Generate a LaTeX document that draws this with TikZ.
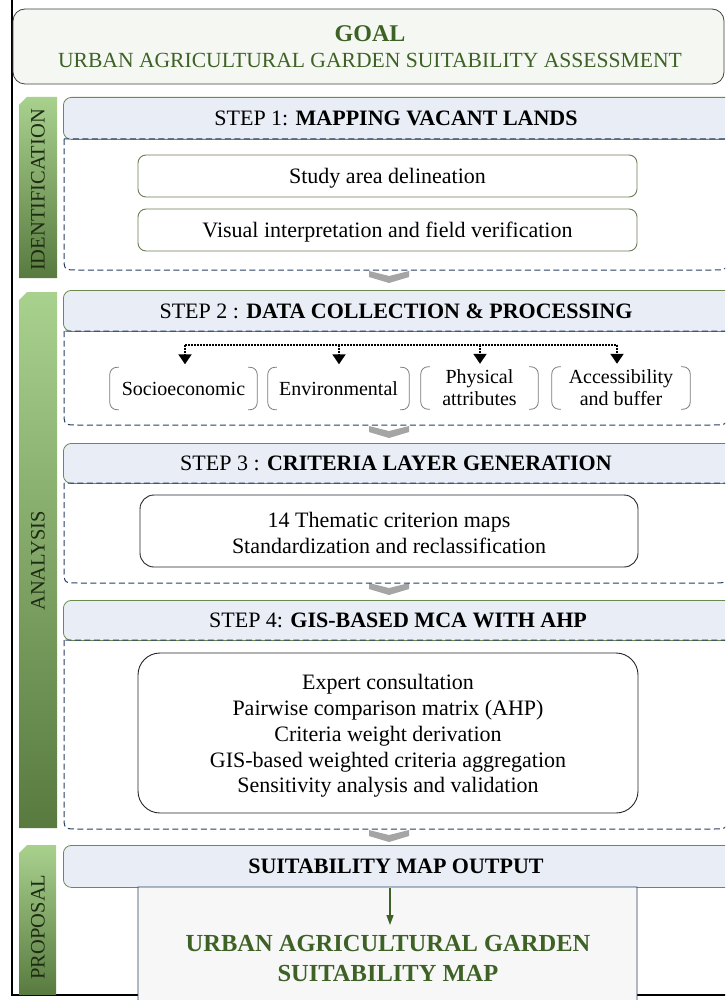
\documentclass[tikz,border=0pt]{standalone}
\usepackage{fontspec}
\setmainfont{Liberation Serif}
\usetikzlibrary{arrows.meta}
\definecolor{dkgreen}{HTML}{3E6125}
\definecolor{goalfill}{HTML}{F5F8F2}
\definecolor{hdrfill}{HTML}{E9EDF6}
\definecolor{hdrline}{HTML}{6A8A4E}
\definecolor{navy}{HTML}{2A3F63}
\definecolor{olive}{HTML}{6B7D55}
\definecolor{chev}{HTML}{A5A5A5}
\definecolor{barlight}{HTML}{A9D18E}
\definecolor{bardark}{HTML}{587A3F}
\definecolor{finfill}{HTML}{F7F7F7}
\definecolor{labtxt}{HTML}{1D2B12}
\definecolor{catline}{HTML}{7A7A7A}
\tikzset{
  fs/.style={font=\fontsize{22}{26}\selectfont},
  frame/.style={draw=black, line width=1.1pt},
  goalbox/.style={draw=black!75, fill=goalfill, rounded corners=12pt, line width=0.8pt},
  bar/.style={top color=barlight, bottom color=bardark},
  sidelab/.style={rotate=90, inner sep=0pt, text=labtxt, font=\fontsize{20.5}{24}\selectfont},
  hdr/.style={draw=hdrline, fill=hdrfill, rounded corners=8pt, line width=0.8pt, anchor=north west, minimum width=680pt},
  hdrtxt/.style={inner sep=0pt, font=\fontsize{22}{26}\selectfont},
  cont/.style={draw=navy, line width=1pt, dash pattern=on 6pt off 3.5pt},
  boxone/.style={draw=olive, fill=white, rounded corners=8pt, line width=0.9pt, fs, minimum width=499pt, minimum height=42pt, text height=16pt, text depth=1.5pt},
  boxbig/.style={draw=black!85, fill=white, line width=0.9pt},
  bigtxt/.style={inner sep=0pt, align=center},
  cat/.style={inner sep=0pt, font=\fontsize{20}{22}\selectfont, align=center, minimum height=42pt},
  catside/.style={draw=catline, line width=0.8pt, rounded corners=7pt},
  dotline/.style={draw=black, line width=1.9pt, dash pattern=on 1.6pt off 1.4pt},
  dotarr/.style={dotline, -{Triangle[length=10pt,width=13pt]}, shorten >=3pt},
  chevron/.style={fill=chev},
  garrow/.style={draw=dkgreen, line width=1.2pt, -{Triangle[length=10pt,width=7pt]}},
}
\begin{document}
\begin{tikzpicture}[x=1pt,y=-1pt]
\useasboundingbox (0,0) rectangle (725,1000);
\clip (0,0) rectangle (725,1000);
\fill[white] (0,0) rectangle (725,1000);

% outer frame
\draw[frame] (12,-2) -- (12,995) -- (140,995);
\draw[frame] (636,995) -- (730,995);

% goal
\node[goalbox, minimum width=711pt, minimum height=75pt] (goal) at (368.5,46.5) {};
\node[inner sep=0pt, text=dkgreen, font=\fontsize{24}{28}\selectfont\bfseries] (goalt) at (370,33.5) {GOAL};
\node[inner sep=0pt, text=dkgreen, font=\fontsize{21.6}{26}\selectfont] (goals) at (370,60) {URBAN AGRICULTURAL GARDEN SUITABILITY ASSESSMENT};

% side bars
\shade[bar] (19,105) -- (27,97) -- (57,97) -- (57,278) -- (19,278) -- cycle;
\shade[bar] (19,300) -- (27,292) -- (57,292) -- (57,828) -- (19,828) -- cycle;
\shade[bar] (19,853) -- (27,845) -- (56,845) -- (56,995) -- (19,995) -- cycle;
\node[sidelab] (lid) at (38,190) {IDENTIFICATION};
\node[sidelab] (lan) at (38,561) {ANALYSIS};
\node[sidelab] (lpr) at (38,927) {PROPOSAL};

% chevrons
\foreach \y in {271,426,583,830}{
  \fill[chevron] (369,\y) -- (389,\y+5) -- (409,\y) -- (409,\y+6) -- (389,\y+12) -- (369,\y+6) -- cycle;
}

% step 1
\node[hdr, minimum height=42pt] (h1) at (63,97) {};
\node[hdrtxt] (h1t) at (396,118.5) {STEP 1: \textbf{MAPPING VACANT LANDS}};
\draw[cont] (64,139) -- (64,256) .. controls (64,270) .. (78,270) -- (713,270) .. controls (727,270) .. (727,256) -- (727,139) -- cycle;
\node[boxone] (s1a) at (387.5,176) {Study area delineation};
\node[boxone] (s1b) at (387.5,230) {Visual interpretation and field verification};

% step 2
\node[hdr, minimum height=41pt] (h2) at (63,290) {};
\node[hdrtxt] (h2t) at (396,311.5) {STEP 2 : \textbf{DATA COLLECTION \& PROCESSING}};
\draw[cont] (64,331) -- (64,411) .. controls (64,425) .. (78,425) -- (713,425) .. controls (727,425) .. (727,411) -- (727,331) -- cycle;
\node[cat, minimum width=147pt] (c1) at (183.5,388.5) {Socioeconomic};
\node[cat, minimum width=141pt] (c2) at (338.5,388.5) {Environmental};
\node[cat, minimum width=117pt] (c3) at (479.5,388) {Physical\\attributes};
\node[cat, minimum width=138pt] (c4) at (621,388) {Accessibility\\and buffer};
\foreach \c in {c1,c2,c3,c4}{
  \draw[catside] ([xshift=9pt]\c.north west) -- (\c.north west) -- (\c.south west) -- ([xshift=9pt]\c.south west);
  \draw[catside] ([xshift=-9pt]\c.north east) -- (\c.north east) -- (\c.south east) -- ([xshift=-9pt]\c.south east);
}
\coordinate (b1) at (185,345);
\coordinate (b2) at (339,345);
\coordinate (b3) at (480,345);
\coordinate (b4) at (617,345);
\draw[dotline] (b1) -- (b4);
\draw[dotarr] (b1) -- (b1 |- c1.north);
\draw[dotarr] (b2) -- (b2 |- c2.north);
\draw[dotarr] (b3) -- (b3 |- c3.north);
\draw[dotarr] (b4) -- (b4 |- c4.north);

% step 3
\node[hdr, minimum height=40pt] (h3) at (63,443) {};
\node[hdrtxt] (h3t) at (396,463.5) {STEP 3 : \textbf{CRITERIA LAYER GENERATION}};
\draw[cont] (64,483) -- (64,569) .. controls (64,583) .. (78,583) -- (713,583) .. controls (727,583) .. (727,569) -- (727,483) -- cycle;
\node[boxbig, rounded corners=14pt, minimum width=498pt, minimum height=72pt] (s3) at (389,531) {};
\node[bigtxt, font=\fontsize{22}{26}\selectfont] (s3t) at (389,532.5) {14 Thematic criterion maps\\Standardization and reclassification};

% step 4
\node[hdr, minimum height=40pt] (h4) at (63,600) {};
\node[hdrtxt] (h4t) at (398,620.5) {STEP 4: \textbf{GIS-BASED MCA WITH AHP}};
\draw[cont] (64,640) -- (64,815) .. controls (64,829) .. (78,829) -- (713,829) .. controls (727,829) .. (727,815) -- (727,640) -- cycle;
\node[boxbig, rounded corners=22pt, minimum width=500pt, minimum height=160pt] (s4) at (388,733) {};
\node[bigtxt, font=\fontsize{22}{25.8}\selectfont] (s4t) at (388,736) {Expert consultation\\Pairwise comparison matrix (AHP)\\Criteria weight derivation\\GIS-based weighted criteria aggregation\\Sensitivity analysis and validation};

% proposal
\node[hdr, minimum height=42pt] (h5) at (63,845) {};
\node[hdrtxt] (h5t) at (396,866.5) {\textbf{SUITABILITY MAP OUTPUT}};
\filldraw[fill=finfill, draw=navy, line width=0.9pt] (138,887) -- (138,995) .. controls (138,1008) .. (150,1008) -- (625,1008) .. controls (637,1008) .. (637,995) -- (637,887) -- cycle;
\node[inner sep=0pt, text=dkgreen, align=center, font=\fontsize{24.5}{30}\selectfont\bfseries] (fin) at (388,958.5) {URBAN AGRICULTURAL GARDEN\\SUITABILITY MAP};
\coordinate (a5) at (390,925);
\draw[garrow] (h5.south -| a5) -- (a5);
\end{tikzpicture}
\end{document}
